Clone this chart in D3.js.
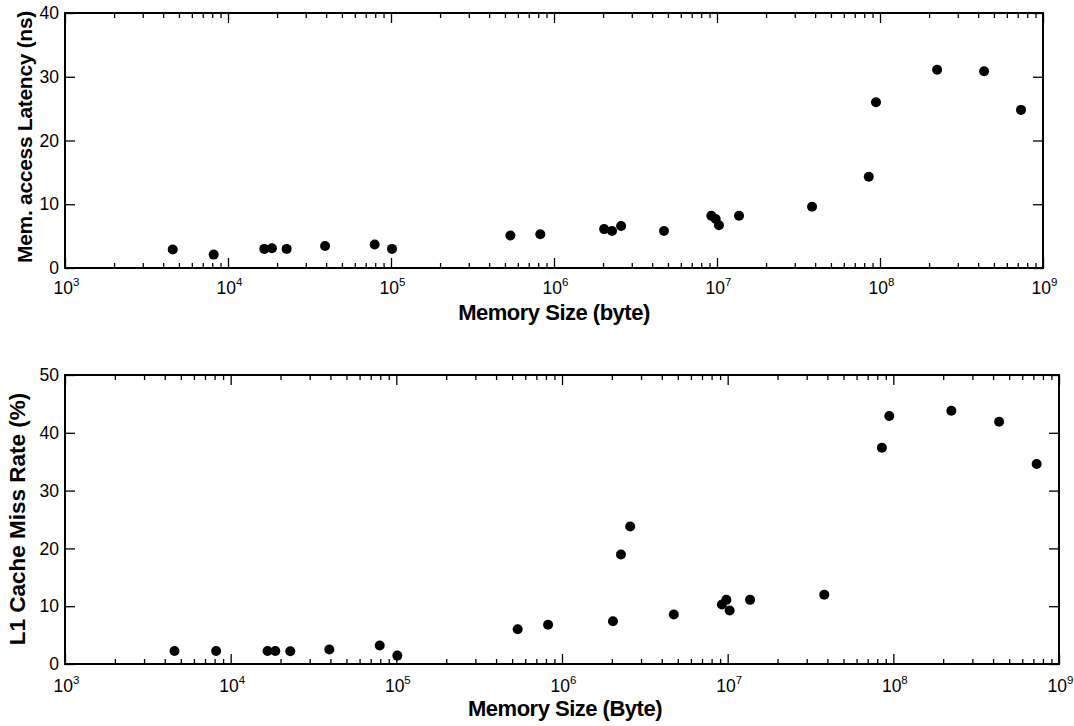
<!DOCTYPE html>
<html><head><meta charset="utf-8">
<script src="https://cdn.jsdelivr.net/npm/d3@7"></script>
<style>
body{margin:0;background:#fff;}
svg{display:block;font-family:"Liberation Sans",Arial,sans-serif;}
</style></head><body>
<svg id="c" width="1074" height="726"></svg>
<script>
// Memory sizes (bytes), shared by both panels
const memSize = [4580, 8170, 16700, 18600, 22900, 39400, 79400, 101400, 540000, 824000,
  2030000, 2270000, 2580000, 4730000, 9230000, 9820000, 10280000, 13650000,
  38300000, 85300000, 94500000, 224000000, 435000000, 733000000];
// Memory access latency (ns)
const latency = [2.9, 2.1, 3.0, 3.1, 3.0, 3.45, 3.7, 3.0, 5.1, 5.3,
  6.1, 5.8, 6.6, 5.8, 8.2, 7.7, 6.7, 8.2,
  9.6, 14.3, 26.0, 31.1, 30.85, 24.8];
// L1 cache miss rate (%)
const missRate = [2.25, 2.25, 2.25, 2.25, 2.2, 2.5, 3.2, 1.45, 6.0, 6.8,
  7.4, 18.95, 23.8, 8.55, 10.3, 11.1, 9.25, 11.1,
  12.0, 37.4, 42.9, 43.8, 41.9, 34.6];
const xDomain = [1e3, 1e9];
const majorX = [1e3, 1e4, 1e5, 1e6, 1e7, 1e8, 1e9];
const yTicksTop = [0, 10, 20, 30, 40];
const yTicksBottom = [0, 10, 20, 30, 40, 50];

const svg = d3.select("#c");
const FONT = '"Liberation Sans",Arial,sans-serif';

const minorX = [];
for (let e = 3; e < 9; e++) for (let m = 2; m <= 9; m++) minorX.push(m * Math.pow(10, e));

function panel(o) {
  const x = d3.scaleLog().domain(xDomain).range([o.left, o.right]);
  const y = d3.scaleLinear().domain(o.yDomain).range([o.bottom, o.top]);
  const g = svg.append("g");

  const axMinB = g.append("g").attr("transform", `translate(0,${o.bottom})`)
    .call(d3.axisBottom(x).tickValues(minorX).tickSize(-5).tickFormat(""));
  const axMinT = g.append("g").attr("transform", `translate(0,${o.top})`)
    .call(d3.axisTop(x).tickValues(minorX).tickSize(-5).tickFormat(""));
  const axB = g.append("g").attr("transform", `translate(0,${o.bottom})`)
    .call(d3.axisBottom(x).tickValues(majorX).tickSize(-10).tickPadding(o.xPad)
      .tickFormat(d => String(Math.round(Math.log10(d)))));
  const axT = g.append("g").attr("transform", `translate(0,${o.top})`)
    .call(d3.axisTop(x).tickValues(majorX).tickSize(-10).tickFormat(""));
  const axL = g.append("g").attr("transform", `translate(${o.left},0)`)
    .call(d3.axisLeft(y).tickValues(o.yTicks).tickSize(-10).tickPadding(6));
  const axR = g.append("g").attr("transform", `translate(${o.right},0)`)
    .call(d3.axisRight(y).tickValues(o.yTicks).tickSize(-10).tickFormat(""));

  [axMinB, axMinT, axB, axT, axL, axR].forEach(a => {
    a.select(".domain").remove();
    a.selectAll("line").attr("stroke", "#000").attr("stroke-width", 1.3);
    a.selectAll("text").attr("fill", "#000").attr("font-size", 17.5).attr("font-family", FONT);
  });
  axB.selectAll("text").each(function(d) {
    const t = d3.select(this);
    const e = String(Math.round(Math.log10(d)));
    t.text(null).attr("text-anchor", "middle").attr("x", 1);
    t.append("tspan").text("10");
    t.append("tspan").text(e).attr("font-size", 11.5).attr("dy", "-0.72em");
  });

  g.append("rect").attr("x", o.left).attr("y", o.top)
    .attr("width", o.right - o.left).attr("height", o.bottom - o.top)
    .attr("fill", "none").attr("stroke", "#000").attr("stroke-width", 2);

  g.append("g").selectAll("circle").data(memSize.map((m, i) => [m, o.values[i]]))
    .join("circle").attr("cx", d => x(d[0])).attr("cy", d => y(d[1])).attr("r", 5).attr("fill", "#000");

  g.append("text").attr("x", o.xLabelX).attr("y", o.xLabelY)
    .attr("text-anchor", "middle").attr("font-weight", "bold").attr("font-size", 22)
    .attr("letter-spacing", -0.5)
    .text(o.xLabel);
  g.append("text").attr("transform", `translate(${o.yLabelX},${o.yLabelY}) rotate(-90)`)
    .attr("text-anchor", "middle").attr("font-weight", "bold").attr("font-size", o.yLabelSize)
    .attr("letter-spacing", o.yLabelSpacing)
    .text(o.yLabel);
}

panel({left: 65, right: 1043, top: 13, bottom: 268, yDomain: [0, 40], yTicks: yTicksTop,
  values: latency, xPad: 14, xLabel: "Memory Size (byte)", xLabelX: 554, xLabelY: 320,
  yLabelX: 31.5, yLabelY: 137, yLabelSize: 21, yLabelSpacing: -0.3, yLabel: "Mem. access Latency (ns)"});
panel({left: 65, right: 1059, top: 375, bottom: 664, yDomain: [0, 50], yTicks: yTicksBottom,
  values: missRate, xPad: 16, xLabelX: 565, xLabel: "Memory Size (Byte)", xLabelY: 716,
  yLabelX: 25, yLabelY: 519, yLabelSize: 22.5, yLabelSpacing: 0, yLabel: "L1 Cache Miss Rate (%)"});
</script>
</body></html>
